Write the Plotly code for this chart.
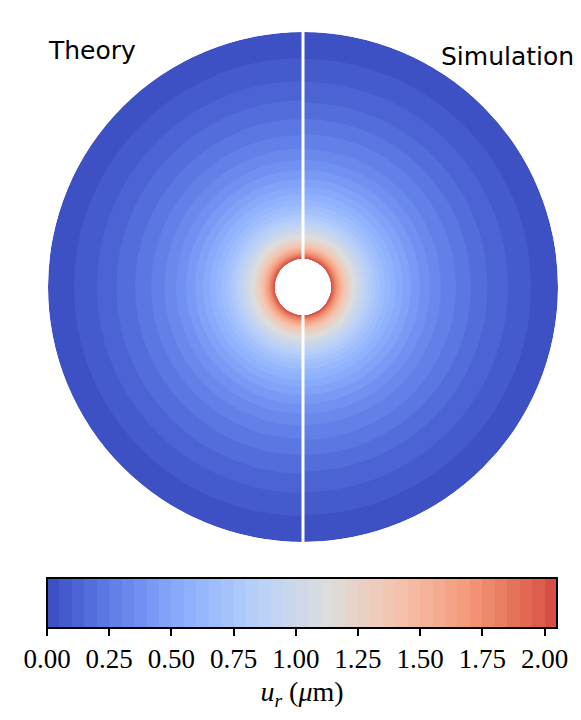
import numpy as np
import plotly.graph_objects as go

# contour levels of u_r (um), one band per 0.05
levels = [0.00, 0.05, 0.10, 0.15, 0.20, 0.25, 0.30, 0.35, 0.40, 0.45,
          0.50, 0.55, 0.60, 0.65, 0.70, 0.75, 0.80, 0.85, 0.90, 0.95,
          1.00, 1.05, 1.10, 1.15, 1.20, 1.25, 1.30, 1.35, 1.40, 1.45,
          1.50, 1.55, 1.60, 1.65, 1.70, 1.75, 1.80, 1.85, 1.90, 1.95,
          2.00, 2.05]

# radius (px-like units) where each level is crossed, outer edge -> hole
theory_r = [255.0, 229.0, 206.0, 186.5, 168.0, 152.0, 138.5, 127.0, 117.0, 108.0,
            100.0, 93.2, 87.1, 81.7, 76.9, 72.5, 68.6, 65.1, 61.9, 59.0,
            56.3, 53.9, 51.6, 49.5, 47.6, 45.8, 44.2, 42.6, 41.2, 39.8,
            38.6, 37.4, 36.3, 35.2, 34.2, 33.3, 32.4, 31.5, 30.7, 29.9,
            29.2, 28.5]
simulation_r = [255.0, 228.0, 205.0, 184.5, 168.0, 153.0, 138.0, 127.0, 117.0, 108.0,
                100.0, 93.0, 87.0, 81.7, 76.9, 72.5, 68.6, 65.1, 61.9, 59.0,
                56.3, 53.9, 51.6, 49.5, 47.6, 45.8, 44.2, 42.6, 41.2, 39.8,
                38.6, 37.4, 36.3, 35.2, 34.2, 33.3, 32.4, 31.5, 30.7, 29.9,
                29.2, 28.5]

tick_vals = [0.00, 0.25, 0.50, 0.75, 1.00, 1.25, 1.50, 1.75, 2.00]

# coolwarm anchor colours (Moreland)
cw_pos = [0.0, 0.125, 0.25, 0.375, 0.5, 0.625, 0.75, 0.875, 1.0]
cw_rgb = [(59, 76, 192), (98, 130, 234), (141, 176, 254), (184, 208, 249),
          (221, 221, 221), (245, 196, 173), (244, 154, 123), (222, 96, 77),
          (180, 4, 38)]


def coolwarm(t):
    cols = [np.interp(t, cw_pos, [c[i] for c in cw_rgb]) for i in range(3)]
    return "rgb(%d,%d,%d)" % tuple(int(round(c)) for c in cols)


W, H = 581, 720
OFF = 8  # page body margin


def px(x):
    return (x - OFF) / W


def py(y):
    return 1 - (y - OFF) / H


NORM_MAX = 2.25
n_bands = len(levels) - 1
mids = [(levels[k] + levels[k + 1]) / 2 for k in range(n_bands)]
colorscale = []
for k, m in enumerate(mids):
    c = coolwarm(m / NORM_MAX)
    colorscale.append([k / n_bands, c])
    colorscale.append([(k + 1) / n_bands, c])

fig = go.Figure()

for radii, theta, show in [(theory_r, 180, False), (simulation_r, 0, True)]:
    hole = radii[-1]
    # each band drawn as a full annulus from the hole outward, largest first,
    # so the smaller ones sit on top and no seams show
    fig.add_trace(go.Barpolar(
        r=[radii[k] - hole for k in range(n_bands)],
        base=[hole] * n_bands,
        theta=[theta] * n_bands, width=[180] * n_bands,
        marker=dict(
            color=mids, colorscale=colorscale, cmin=levels[0], cmax=levels[-1],
            line=dict(width=0),
            showscale=show,
            colorbar=dict(
                orientation="h", x=px(302), xanchor="center",
                y=py(578), yanchor="top",
                len=510 / W, lenmode="fraction", thickness=50,
                xpad=0, ypad=0,
                outlinewidth=2, outlinecolor="black",
                ticks="outside", ticklen=7, tickwidth=1.5, tickcolor="black",
                tickvals=tick_vals, ticktext=["%.2f" % v for v in tick_vals],
                tickfont=dict(family="Liberation Serif", size=27, color="black"),
                title=dict(text="<i>u</i><sub><i>r</i></sub> (<i>μ</i>m)", side="bottom",
                           font=dict(family="Liberation Serif", size=28, color="black")),
            ),
        ),
        showlegend=False, hoverinfo="skip",
    ))

# white divider between the two halves
fig.add_trace(go.Scatterpolar(
    r=[theory_r[0], 0, theory_r[0]], theta=[90, 0, 270], mode="lines",
    line=dict(color="white", width=3), showlegend=False, hoverinfo="skip",
))

fig.add_annotation(text="Theory", x=px(46), y=py(50), xref="paper", yref="paper",
                   xanchor="left", yanchor="middle", showarrow=False,
                   font=dict(family="DejaVu Sans", size=25, color="black"))
fig.add_annotation(text="Simulation", x=px(439), y=py(57), xref="paper", yref="paper",
                   xanchor="left", yanchor="middle", showarrow=False,
                   font=dict(family="DejaVu Sans", size=25, color="black"))

fig.update_layout(
    width=W, height=H,
    margin=dict(l=0, r=0, t=0, b=0),
    paper_bgcolor="white",
    polar=dict(
        domain=dict(x=[px(48), px(558)], y=[py(542), py(32)]),
        bgcolor="white",
        radialaxis=dict(visible=False, range=[0, theory_r[0]]),
        angularaxis=dict(visible=False),
        bargap=0,
    ),
)

fig.write_html("out.html")
